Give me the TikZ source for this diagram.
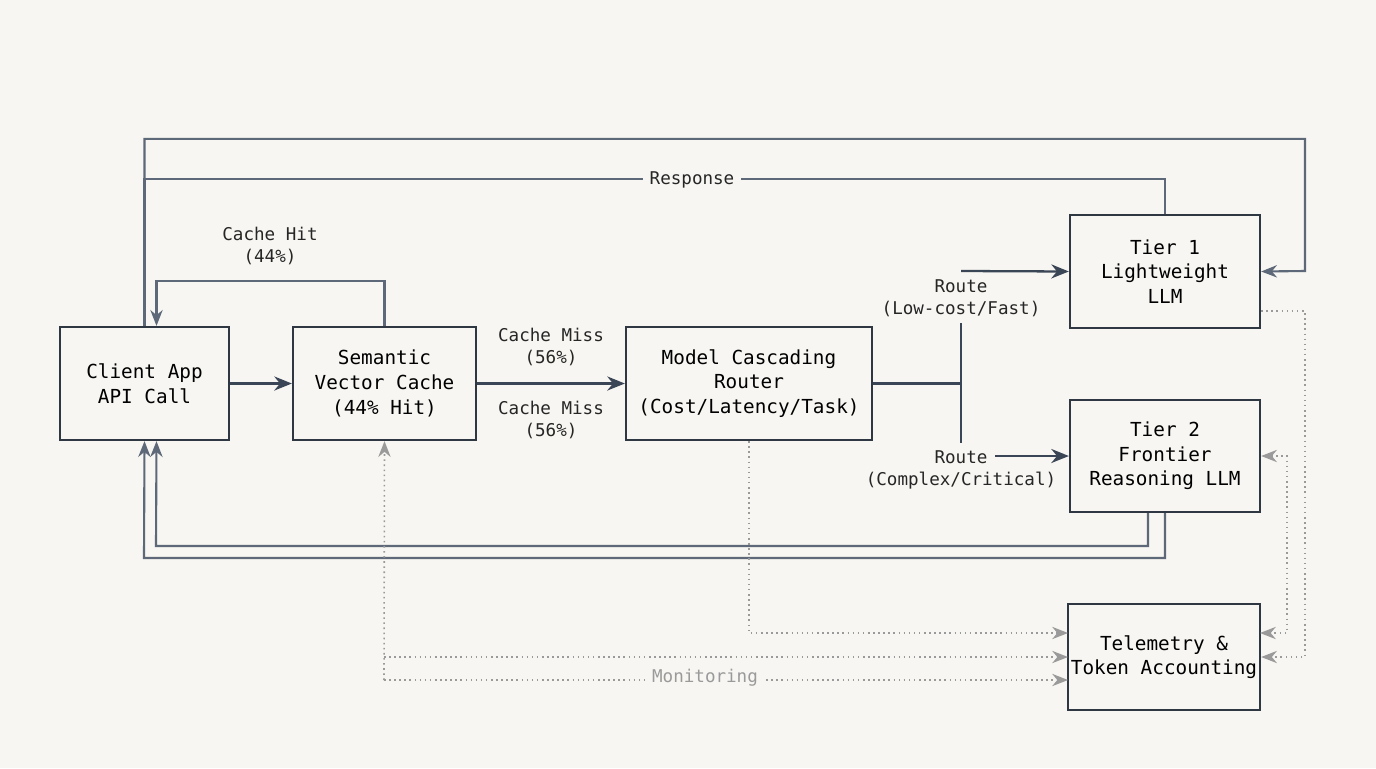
\documentclass[tikz,border=0pt]{standalone}
\usepackage{fontspec}
\setmainfont{DejaVu Sans Mono}
\usetikzlibrary{arrows.meta}
\definecolor{bgc}{HTML}{F7F6F2}
\definecolor{edge}{HTML}{2F3742}
\definecolor{wire}{HTML}{5D6878}
\definecolor{darkwire}{HTML}{3A4556}
\definecolor{mongray}{HTML}{9A9A9A}
\tikzset{
  box/.style={draw=edge,line width=1.3pt,fill=bgc,align=center,inner sep=1pt,font=\fontsize{11}{14}\selectfont},
  lbl/.style={align=center,font=\fontsize{10}{12.5}\selectfont,text=black!85,inner sep=1pt},
  flow/.style={draw=wire,line width=1.2pt,-{Stealth[length=9pt,width=7pt]}},
  mainflow/.style={draw=darkwire,line width=1.3pt,-{Stealth[length=10pt,width=8pt]}},
  mon/.style={draw=mongray,dotted,line width=0.9pt,-{Stealth[length=9pt,width=7pt]}}
}
\begin{document}
\begin{tikzpicture}[x=0.02cm,y=-0.02cm]
    \path[fill=bgc](0,0)rectangle(1376,768);

    \node[box,minimum width=169*0.02cm,minimum height=113*0.02cm](client)at(144.5,383.5){Client App\\API Call};
    \node[box,minimum width=183*0.02cm,minimum height=113*0.02cm](cache)at(384.5,383.5){Semantic\\Vector Cache\\(44\% Hit)};
    \node[box,minimum width=246*0.02cm,minimum height=113*0.02cm](router)at(749,383.5){Model Cascading\\Router\\(Cost/Latency/Task)};
    \node[box,minimum width=190*0.02cm,minimum height=113*0.02cm](tierone)at(1165,271.5){Tier 1\\Lightweight\\LLM};
    \node[box,minimum width=190*0.02cm,minimum height=112*0.02cm](tiertwo)at(1165,456){Tier 2\\Frontier\\Reasoning LLM};
    \node[box,minimum width=192*0.02cm,minimum height=106*0.02cm](telem)at(1164,657){Telemetry \&\\Token Accounting};

    % main path
    \draw[mainflow](client)--(cache);
    \draw[mainflow](cache)--(router);
    \node[lbl](missa)at(551,347){Cache Miss\\(56\%)};
    \node[lbl](missb)at(551,420){Cache Miss\\(56\%)};

    % cache hit back to client
    \draw[flow](cache.north)--++(0,-45)-|([xshift=12*0.02cm]client.north);
    \node[lbl](hit)at(270,246){Cache Hit\\(44\%)};

    % request loop to tier 1, response back
    \draw[flow](client.north)--++(0,-187)-|(1305,271)--(tierone.east);
    \draw[draw=wire,line width=1.2pt](tierone.north)--++(0,-35)-|(client.north);
    \node[lbl,fill=bgc,inner sep=4pt](resp)at(692,180){Response};

    % routing split
    \coordinate(split)at(961,383.5);
    \draw[darkwire,line width=1.3pt](router.east)--(split);
    \draw[darkwire,line width=1.3pt](961,323)--(961,443);
    \node[lbl](routea)at(961,298){Route\\(Low-cost/Fast)};
    \node[lbl](routeb)at(961,470){Route\\(Complex/Critical)};
    \draw[mainflow](961,271)--(tierone.west);
    \draw[mainflow](995,456)--(tiertwo.west);

    % answers from tier 2
    \draw[flow]([xshift=-17*0.02cm]tiertwo.south)|-(156,546)--([xshift=12*0.02cm]client.south);
    \draw[flow](tiertwo.south)|-(144,558)--(client.south);

    % monitoring
    \draw[mon](384,680)--(cache.south);
    \draw[mon](router.south)|-(1068,633);
    \draw[mon](384,657)--(1068,657);
    \draw[mon](384,680)--(1068,680);
    \node[lbl,fill=bgc,text=mongray,inner sep=4pt](monlbl)at(705,678){Monitoring};
    \draw[mon]([yshift=18*0.02cm]tierone.south east)-|(1305,657)--(telem.east);
    \draw[mon,{Stealth[length=9pt,width=7pt]}-{Stealth[length=9pt,width=7pt]}](tiertwo.east)-|(1287,633)--(1260,633);
\end{tikzpicture}
\end{document}
